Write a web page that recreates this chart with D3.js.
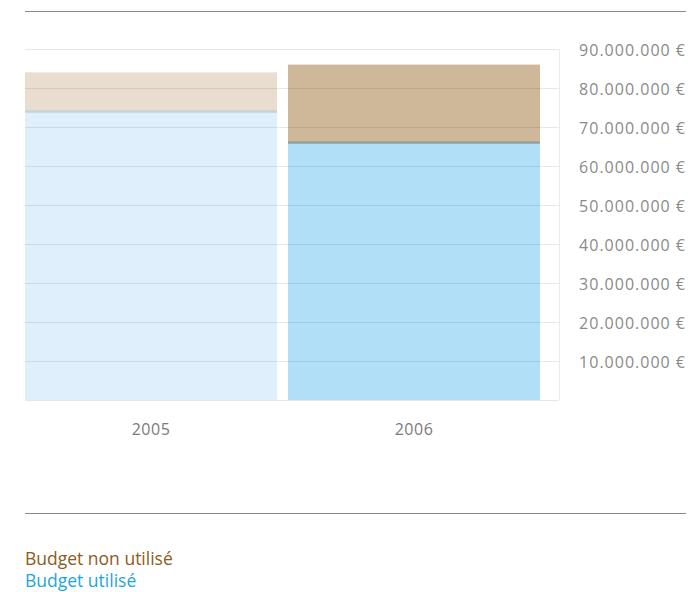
<!DOCTYPE html>
<html><head><meta charset="utf-8">
<script src="https://cdn.jsdelivr.net/npm/d3@7"></script>
<style>html,body{margin:0;padding:0;background:#fff;} svg{display:block;}</style>
</head><body>
<script>
const years = ["2005", "2006"];
const usedValues = [74000000, 66000000];
const unusedValues = [10000000, 20000000];
const tickValues = [10000000, 20000000, 30000000, 40000000, 50000000, 60000000, 70000000, 80000000, 90000000];
const seriesNames = ["Budget non utilisé", "Budget utilisé"];

const W = 690, H = 592;
const svg = d3.select("body").append("svg").attr("width", W).attr("height", H);
const font = "'Open Sans', sans-serif";

const x = d3.scaleBand().domain(years).range([25, 540]).paddingInner(0.0418).paddingOuter(0);
const y = d3.scaleLinear().domain([0, 90000000]).range([400, 49]);

// rules top and bottom
svg.append("line").attr("x1", 25).attr("x2", 686).attr("y1", 11.5).attr("y2", 11.5).attr("stroke", "#8a8a8a").attr("stroke-width", 1.2);
svg.append("line").attr("x1", 25).attr("x2", 686).attr("y1", 513.5).attr("y2", 513.5).attr("stroke", "#8a8a8a").attr("stroke-width", 1.2);

const colors = {
  "2005": {unused: "#e9ddd0", used: "#dff0fc", sep: "#c8d2d3"},
  "2006": {unused: "#cfb799", used: "#b0dff7", sep: "#95a19a"}
};

const data = years.map((yr, i) => ({year: yr, used: usedValues[i], unused: unusedValues[i]}));

const g = svg.append("g");
g.selectAll("rect.used").data(data).join("rect").attr("class", "used")
  .attr("x", d => x(d.year)).attr("width", x.bandwidth())
  .attr("y", d => y(d.used)).attr("height", d => y(0) - y(d.used))
  .attr("fill", d => colors[d.year].used);
g.selectAll("rect.unused").data(data).join("rect").attr("class", "unused")
  .attr("x", d => x(d.year)).attr("width", x.bandwidth())
  .attr("y", d => y(d.used + d.unused)).attr("height", d => y(d.used) - y(d.used + d.unused))
  .attr("fill", d => colors[d.year].unused);
g.selectAll("line.sep").data(data).join("line").attr("class", "sep")
  .attr("x1", d => x(d.year)).attr("x2", d => x(d.year) + x.bandwidth())
  .attr("y1", d => y(d.used)).attr("y2", d => y(d.used))
  .attr("stroke", d => colors[d.year].sep).attr("stroke-width", 2.5);

// gridlines
const grid = svg.append("g");
grid.selectAll("line").data([0, ...tickValues]).join("line")
  .attr("x1", 25).attr("x2", 559)
  .attr("y1", d => Math.round(y(d)) + 0.5).attr("y2", d => Math.round(y(d)) + 0.5)
  .attr("stroke", "rgba(0,0,0,0.09)").attr("stroke-width", 1);
grid.append("line").attr("x1", 559.5).attr("x2", 559.5).attr("y1", y(90000000)).attr("y2", y(0))
  .attr("stroke", "rgba(0,0,0,0.08)");

// y labels
const fmt = v => d3.format(",")(v).replace(/,/g, ".") + " €";
svg.append("g").selectAll("text").data(tickValues).join("text")
  .attr("x", 686).attr("y", d => y(d) + 3)
  .attr("text-anchor", "end").attr("dominant-baseline", "middle")
  .attr("font-family", font).attr("font-size", 16).attr("letter-spacing", 1).attr("fill", "#8a8a8a")
  .text(fmt);

// x labels
svg.append("g").selectAll("text").data(years).join("text")
  .attr("x", d => x(d) + x.bandwidth() / 2).attr("y", 435)
  .attr("text-anchor", "middle")
  .attr("font-family", font).attr("font-size", 16).attr("letter-spacing", 0.5).attr("fill", "#7a7a7a")
  .text(d => d);

// legend
const legendColors = ["#8b5c20", "#1ea4e0"];
svg.append("g").selectAll("text").data(seriesNames).join("text")
  .attr("x", 25).attr("y", (d, i) => 565 + i * 22)
  .attr("font-family", font).attr("font-size", 17.5).attr("fill", (d, i) => legendColors[i])
  .text(d => d);
</script>
</body></html>
